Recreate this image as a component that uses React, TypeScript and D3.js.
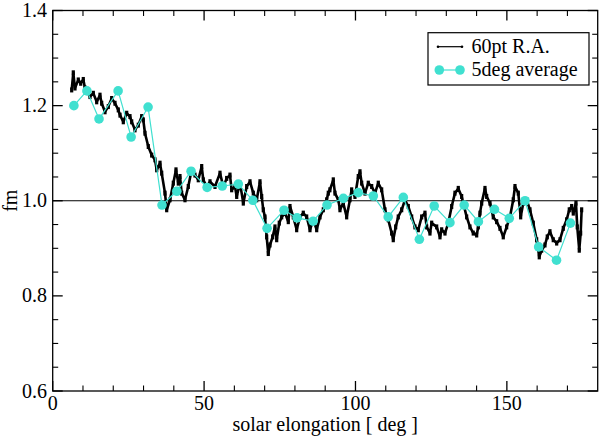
import React from 'react';
import * as d3 from 'd3';

// 60-point running average
const raDeg = [
  6.27, 6.8, 7.36, 8.45, 9.25, 10.1, 10.67, 12.32, 13.41, 14.53, 15.62, 16.18, 17.27, 18.36, 19.48, 20.57,
  21.66, 22.23, 23.32, 24.44, 25.53, 26.09, 27.18, 28.27, 29.39, 29.92, 30.48, 31.57, 32.69, 33.78, 34.35,
  35.44, 36.0, 37.09, 37.65, 38.74, 39.83, 40.72, 41.48, 42.04, 42.6, 43.69, 44.78, 45.9, 46.99, 48.08,
  49.21, 49.74, 50.86, 51.95, 53.6, 55.25, 56.34, 57.46, 58.55, 59.11, 60.2, 60.77, 61.86, 62.95, 64.07,
  65.16, 66.25, 67.37, 68.46, 69.02, 69.55, 70.11, 70.67, 71.2, 71.76, 72.65, 73.41, 73.98, 74.83, 75.63,
  76.72, 77.81, 78.37, 79.46, 80.58, 81.67, 82.76, 83.88, 84.97, 86.06, 87.19, 88.28, 89.37, 90.49, 91.02,
  91.55, 92.67, 93.23, 94.32, 94.88, 95.97, 97.09, 98.18, 98.74, 99.83, 100.92, 101.49, 102.05, 103.14,
  104.23, 105.35, 106.44, 107.53, 108.65, 109.74, 110.83, 111.95, 112.48, 113.28, 114.13, 115.26, 116.35,
  117.44, 118.56, 119.65, 120.74, 121.86, 122.95, 123.51, 124.6, 125.17, 126.82, 127.91, 128.47, 129.56,
  130.65, 131.77, 132.86, 133.95, 135.07, 135.6, 136.72, 137.81, 138.9, 140.03, 140.55, 141.12, 141.68,
  142.77, 143.33, 144.42, 145.51, 146.63, 147.72, 148.81, 149.93, 151.02, 152.11, 152.68, 153.77, 154.56,
  155.42, 156.54, 157.63, 158.72, 159.84, 160.7, 161.49, 162.58, 163.34, 164.23, 165.32, 166.45, 167.54,
  168.63, 169.75, 170.61, 171.4, 171.93, 172.82, 173.25, 173.91, 174.37, 174.7,
];
const raFm = [
  1.233, 1.269, 1.237, 1.254, 1.247, 1.255, 1.237, 1.219, 1.226, 1.208, 1.222, 1.205, 1.187, 1.198, 1.215, 1.205,
  1.191, 1.18, 1.166, 1.184, 1.177, 1.166, 1.149, 1.159, 1.177, 1.17, 1.142, 1.114, 1.096, 1.086, 1.065,
  1.079, 1.058, 1.016, 0.981, 1.002, 1.037, 1.065, 1.037, 1.051, 1.016, 1.002, 1.03, 1.065, 1.054, 1.044,
  1.072, 1.044, 1.03, 1.04, 1.03, 1.058, 1.03, 1.047, 1.054, 1.023, 1.03, 1.009, 1.037, 0.995, 1.03,
  1.04, 1.016, 1.002, 1.04, 1.009, 0.981, 0.966, 0.924, 0.889, 0.907, 0.924, 0.945, 0.918, 0.953, 0.966,
  0.974, 0.956, 0.988, 0.966, 0.939, 0.966, 0.974, 0.966, 0.939, 0.96, 0.939, 0.966, 0.981, 1.002, 1.016,
  1.023, 1.044, 1.016, 1.002, 0.981, 0.995, 0.966, 1.002, 1.023, 1.009, 1.051, 1.061, 1.037, 1.016,
  1.037, 1.03, 1.016, 1.037, 1.023, 0.981, 0.96, 0.932, 0.918, 0.945, 0.966, 0.981, 1.002,
  0.988, 0.966, 0.945, 0.939, 0.966, 0.974, 0.945, 0.932, 0.953, 0.945, 0.924, 0.939, 0.932,
  0.953, 0.988, 1.016, 1.026, 1.009, 0.995, 0.966, 0.945, 0.932, 0.928, 0.945, 0.974, 0.995,
  1.026, 1.009, 0.995, 0.966, 0.956, 0.942, 0.924, 0.945, 0.966, 1.002, 1.03, 1.016, 0.966,
  0.995, 1.002, 0.981, 0.953, 0.918, 0.882, 0.896, 0.907, 0.924, 0.935, 0.918, 0.911, 0.918,
  0.942, 0.96, 0.981, 0.988, 0.974, 0.995, 0.945, 0.896, 0.932, 0.981,
];

// 5 degree averages
const avgDeg = [
  7.0, 11.3, 15.3, 21.6, 25.9, 31.5, 36.1, 41.0, 45.7, 51.0, 56.0, 61.3, 66.1, 70.8, 76.4, 80.7, 86.0,
  90.6, 96.0, 100.9, 105.9, 110.8, 115.8, 121.1, 126.0, 131.2, 135.9, 140.6, 145.9, 150.8, 156.0, 160.5,
  166.4, 171.0,
];
const avgFm = [
  1.2, 1.231, 1.172, 1.231, 1.134, 1.197, 0.991, 1.02, 1.062, 1.028, 1.031, 1.035, 1.001, 0.942, 0.98,
  0.964, 0.957, 0.991, 1.005, 1.017, 1.01, 0.966, 1.007, 0.919, 0.989, 0.954, 0.991, 0.956, 0.982,
  0.963, 1.0, 0.903, 0.875, 0.953,
];

const xMajor = [0, 50, 100, 150];
const xMinor = [10, 20, 30, 40, 60, 70, 80, 90, 110, 120, 130, 140, 160, 170];
const yMajor = [0.6, 0.8, 1.0, 1.2, 1.4];
const yMinor = [0.65, 0.7, 0.75, 0.85, 0.9, 0.95, 1.05, 1.1, 1.15, 1.25, 1.3, 1.35];
const yLabels = ['0.6', '0.8', '1.0', '1.2', '1.4'];
const xLabel = 'solar elongation [ deg ]';
const yLabel = 'fm';
const legendNames = ['60pt R.A.', '5deg average'];

const TURQ = '#40E0D0';
const FONT = '"Liberation Serif", "Times New Roman", serif';

export default function App() {
  const L = 52.7, R = 597.7, T = 10.5, B = 391;
  const x = d3.scaleLinear().domain([0, 180]).range([L, R]);
  const y = d3.scaleLinear().domain([0.6, 1.4]).range([B, T]);

  const ra = raDeg.map((d, i) => [d, raFm[i]] as [number, number]);
  const avg = avgDeg.map((d, i) => [d, avgFm[i]] as [number, number]);
  const line = d3.line<[number, number]>().x((d) => x(d[0])).y((d) => y(d[1]));

  const maj = 10, min = 5.5;

  return (
    <svg width={600} height={437} style={{ position: 'absolute', left: 0, top: 0, background: '#fff' }}
      fontFamily={FONT}>
      <rect x={0} y={0} width={600} height={437} fill="#fff" />
      {/* reference line at 1.0 */}
      <line x1={L} x2={R} y1={y(1.0)} y2={y(1.0)} stroke="#000" strokeWidth={1.2} />

      {/* running average */}
      <path d={line(ra) || ''} fill="none" stroke="#000" strokeWidth={2.6} strokeLinejoin="round" />
      {ra.map((d, i) => (
        <rect key={'r' + i} x={x(d[0]) - 1.6} y={y(d[1]) - 2.5} width={3.2} height={5} fill="#000" />
      ))}

      {/* 5deg averages */}
      <path d={line(avg) || ''} fill="none" stroke={TURQ} strokeWidth={1.2} />
      {avg.map((d, i) => (
        <circle key={'a' + i} cx={x(d[0])} cy={y(d[1])} r={4.8} fill={TURQ} />
      ))}

      {/* frame */}
      <rect x={L} y={T} width={R - L} height={B - T} fill="none" stroke="#000" strokeWidth={1.3} />

      {/* x ticks */}
      {xMajor.map((v) => (
        <g key={'xm' + v}>
          <line x1={x(v)} x2={x(v)} y1={B} y2={B - maj} stroke="#000" strokeWidth={1.3} />
          <line x1={x(v)} x2={x(v)} y1={T} y2={T + maj} stroke="#000" strokeWidth={1.3} />
          <text x={x(v)} y={410} textAnchor="middle" fontSize={20}>{v}</text>
        </g>
      ))}
      {xMinor.map((v) => (
        <g key={'xn' + v}>
          <line x1={x(v)} x2={x(v)} y1={B} y2={B - min} stroke="#000" strokeWidth={1.1} />
          <line x1={x(v)} x2={x(v)} y1={T} y2={T + min} stroke="#000" strokeWidth={1.1} />
        </g>
      ))}

      {/* y ticks */}
      {yMajor.map((v, i) => (
        <g key={'ym' + v}>
          <line x1={L} x2={L + maj} y1={y(v)} y2={y(v)} stroke="#000" strokeWidth={1.3} />
          <line x1={R} x2={R - maj} y1={y(v)} y2={y(v)} stroke="#000" strokeWidth={1.3} />
          <text x={47} y={y(v) + 6.5} textAnchor="end" fontSize={20}>{yLabels[i]}</text>
        </g>
      ))}
      {yMinor.map((v) => (
        <g key={'yn' + v}>
          <line x1={L} x2={L + min} y1={y(v)} y2={y(v)} stroke="#000" strokeWidth={1.1} />
          <line x1={R} x2={R - min} y1={y(v)} y2={y(v)} stroke="#000" strokeWidth={1.1} />
        </g>
      ))}

      {/* axis labels */}
      <text x={(L + R) / 2} y={431} textAnchor="middle" fontSize={20}>{xLabel}</text>
      <text transform={`translate(17,${y(1.0)}) rotate(-90)`} textAnchor="middle" fontSize={20}>{yLabel}</text>

      {/* legend */}
      <rect x={428} y={32.7} width={161} height={52.3} fill="#fff" stroke="#000" strokeWidth={1.2} />
      <line x1={438} x2={462} y1={46.7} y2={46.7} stroke="#000" strokeWidth={1.2} />
      <circle cx={438} cy={46.7} r={1.3} fill="#000" />
      <circle cx={462} cy={46.7} r={1.3} fill="#000" />
      <text x={471.5} y={52.5} fontSize={20}>{legendNames[0]}</text>
      <line x1={439.3} x2={460} y1={70} y2={70} stroke={TURQ} strokeWidth={1.2} />
      <circle cx={439.3} cy={70} r={4.8} fill={TURQ} />
      <circle cx={460} cy={70} r={4.8} fill={TURQ} />
      <text x={471.5} y={76} fontSize={20}>{legendNames[1]}</text>
    </svg>
  );
}
